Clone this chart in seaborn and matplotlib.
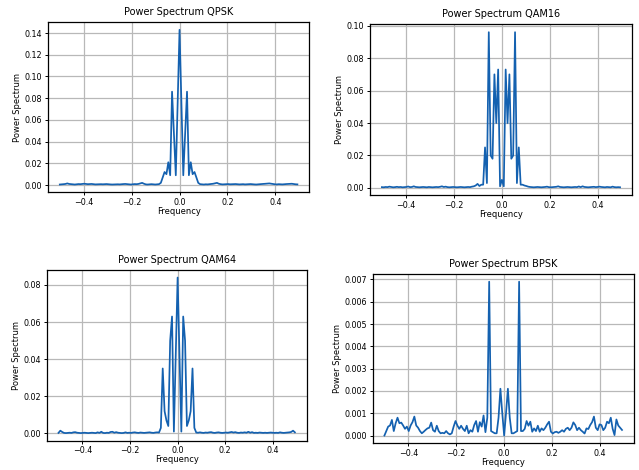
import numpy as np
import pandas as pd
import matplotlib
matplotlib.use("Agg")
import matplotlib.pyplot as plt
import seaborn as sns

# frequency bins of a 128 point FFT, centred
freq = np.arange(-64, 64) / 128

# values (QPSK/QAM in 1e-3, BPSK in 1e-4)
qpsk = [0.5, 0.6, 0.8, 1.0, 1.5, 1.0, 0.8, 0.6, 0.5, 0.7, 0.9, 0.8, 1.0, 1.2, 1.0, 0.8,
        0.9, 1.0, 0.8, 0.6, 0.7, 0.9, 0.8, 0.7, 0.8, 0.9, 0.7, 0.6, 0.5, 0.6, 0.8, 0.7,
        0.6, 0.8, 0.9, 1.0, 0.8, 0.6, 0.5, 0.7, 0.9, 0.8, 1.0, 1.5, 2.0, 1.2, 0.6, 0.5,
        0.7, 0.8, 0.6, 0.5, 0.6, 0.8, 2, 7, 12, 10, 21, 9, 86, 48, 9, 75,
        143, 75, 9, 48, 86, 9, 21, 10, 12, 7, 2, 0.8, 0.6, 0.5, 0.7, 0.6,
        0.8, 1.0, 1.2, 1.6, 2.0, 1.2, 0.8, 0.6, 0.7, 0.8, 0.9, 0.7, 0.8, 1.0, 0.9, 0.7,
        0.6, 0.7, 0.8, 0.6, 0.7, 0.8, 0.9, 0.7, 0.6, 0.5, 0.7, 0.8, 0.9, 1.0, 1.2, 1.4,
        1.5, 1.2, 0.9, 0.7, 0.6, 0.8, 0.7, 0.6, 0.8, 0.9, 1.0, 1.1, 1.2, 0.9, 0.7, 0.6]

qam16 = [0.5, 0.4, 0.6, 0.5, 0.8, 0.6, 0.4, 0.5, 0.7, 0.5, 0.6, 0.4, 0.5, 0.6, 0.9, 0.5,
         0.6, 1.0, 0.6, 0.5, 0.4, 0.5, 0.6, 0.5, 0.4, 0.6, 0.5, 0.4, 0.5, 0.6, 0.5, 0.7,
         1.0, 0.6, 0.8, 0.5, 0.4, 0.5, 0.6, 0.5, 0.4, 0.5, 0.6, 0.5, 0.4, 0.5, 0.6, 0.5,
         0.8, 1.0, 1.5, 2.5, 1.2, 2.0, 2, 25, 3, 96, 20, 18, 70, 40, 73, 1,
         5, 1, 73, 40, 70, 18, 20, 96, 3, 25, 2, 2.0, 1.5, 1.2, 0.8, 0.6,
         0.5, 0.4, 0.5, 0.6, 0.5, 0.4, 0.5, 0.6, 0.8, 0.5, 0.4, 0.5, 0.6, 0.7, 1.0, 0.6,
         0.5, 0.4, 0.5, 0.6, 0.5, 0.4, 0.5, 0.6, 0.5, 0.9, 0.5, 1.0, 0.6, 0.5, 0.4, 0.5,
         0.6, 0.7, 0.5, 0.6, 0.8, 0.6, 0.5, 0.4, 0.6, 0.5, 0.4, 0.8, 0.5, 0.4, 0.5, 0.4]

qam64 = [0.3, 1.5, 0.8, 0.3, 0.2, 0.3, 0.4, 0.3, 0.6, 0.7, 0.4, 0.3, 0.2, 0.3, 0.4, 0.3,
         0.2, 0.3, 0.4, 0.3, 0.2, 0.6, 0.3, 0.9, 0.3, 0.2, 0.4, 0.3, 0.8, 0.9, 0.4, 0.7,
         0.4, 0.3, 0.2, 0.3, 0.6, 0.3, 0.4, 0.3, 0.5, 0.6, 0.4, 0.3, 0.5, 0.4, 0.3, 0.4,
         0.5, 0.6, 0.4, 0.3, 0.5, 0.6, 0.5, 3, 35, 12, 7, 4, 50, 63, 1, 42,
         84, 42, 1, 63, 50, 4, 7, 12, 35, 3, 0.5, 0.4, 0.6, 0.4, 0.3, 0.5,
         0.4, 0.6, 0.7, 0.4, 0.3, 0.5, 0.6, 0.4, 0.3, 0.4, 0.5, 0.4, 0.6, 0.8, 0.5, 0.7,
         0.4, 0.3, 0.5, 0.4, 0.6, 0.4, 0.9, 0.4, 0.7, 0.3, 0.4, 0.3, 0.5, 0.4, 0.3, 0.4,
         0.3, 0.4, 0.5, 0.4, 0.3, 0.4, 0.3, 0.6, 0.4, 0.3, 0.4, 0.5, 0.6, 0.8, 1.5, 0.6]

bpsk = [0, 2, 4, 4.5, 7, 2, 5.5, 8, 5.5, 5.8, 4.5, 3, 4, 2, 4.5, 6,
        8.5, 4.5, 3.5, 2, 1, 1.7, 2.5, 3.2, 3.5, 5.8, 2.4, 1.7, 4.4, 2, 1, 1.2,
        1, 2, 1, 0.5, 1, 4, 6.5, 4.5, 3, 4.4, 3, 2, 4.4, 1, 2.4, 1.7,
        4.7, 6.5, 1.7, 6, 4, 9, 1.5, 8, 69, 2, 1.5, 1, 1, 8, 21, 10,
        0, 10, 21, 8, 1, 1, 1.5, 2, 69, 2, 2, 3, 6.5, 4.4, 6.2, 1.7,
        3.2, 2, 4.4, 1.7, 3.2, 2.4, 3.5, 5, 6.2, 1.7, 0.9, 1.5, 1.7, 1.2, 1.7, 2.4,
        1.7, 3, 3.5, 2.4, 3.5, 5.9, 4.7, 2.4, 3.5, 2.4, 1.7, 0.9, 3.2, 2.9, 4.7, 6,
        8.5, 3.5, 2.4, 5, 4.7, 2.4, 3.5, 6.2, 5.5, 8, 3, 0.2, 7.2, 4.5, 3.5, 2.5]

titles = ["Power Spectrum QPSK", "Power Spectrum QAM16",
          "Power Spectrum QAM64", "Power Spectrum BPSK"]
xticks = [-0.4, -0.2, 0.0, 0.2, 0.4]
yticks_qpsk = [0.00, 0.02, 0.04, 0.06, 0.08, 0.10, 0.12, 0.14]
yticks_qam16 = [0.00, 0.02, 0.04, 0.06, 0.08, 0.10]
yticks_qam64 = [0.00, 0.02, 0.04, 0.06, 0.08]
yticks_bpsk = [0.000, 0.001, 0.002, 0.003, 0.004, 0.005, 0.006, 0.007]

series = [np.array(qpsk) * 1e-3, np.array(qam16) * 1e-3,
          np.array(qam64) * 1e-3, np.array(bpsk) * 1e-4]
yticks = [yticks_qpsk, yticks_qam16, yticks_qam64, yticks_bpsk]
yfmt = ["%.2f", "%.2f", "%.2f", "%.3f"]

fig = plt.figure(figsize=(6.39, 4.70), dpi=100)
boxes = [[0.075, 0.591, 0.409, 0.362],
         [0.579, 0.585, 0.410, 0.363],
         [0.073, 0.062, 0.407, 0.364],
         [0.583, 0.057, 0.409, 0.360]]

for i in range(4):
    ax = fig.add_axes(boxes[i])
    df = pd.DataFrame({"Frequency": freq, "Power": series[i]})
    sns.lineplot(data=df, x="Frequency", y="Power", ax=ax,
                 color="#1461b0", linewidth=1.25)
    ax.grid(True, color="#b8b8b8", linewidth=0.9)
    ax.set_axisbelow(True)
    ax.set_xticks(xticks)
    ax.set_yticks(yticks[i])
    ax.set_yticklabels([yfmt[i] % v for v in yticks[i]])
    ax.tick_params(labelsize=5.8, length=2.5, width=0.7, pad=1.5)
    ax.set_title(titles[i], fontsize=7, pad=5)
    ax.set_xlabel("Frequency", fontsize=6, labelpad=0)
    ax.set_ylabel("Power Spectrum", fontsize=6, labelpad=2)
    for s in ax.spines.values():
        s.set_color("black")
        s.set_linewidth(0.9)

fig.savefig("out.png", dpi=100)
